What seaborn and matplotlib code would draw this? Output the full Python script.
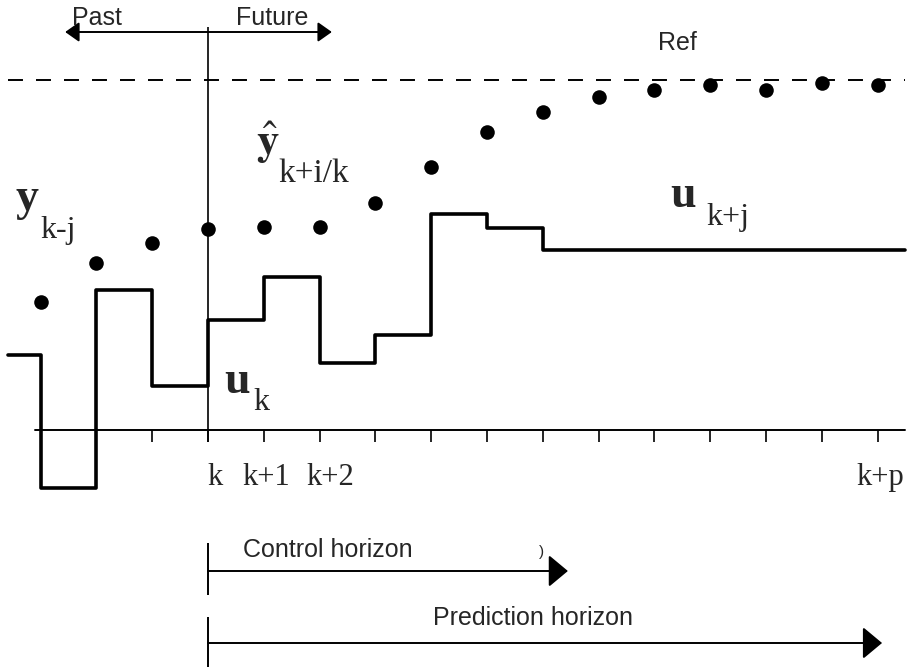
import numpy as np
import matplotlib
matplotlib.use('Agg')
import matplotlib.pyplot as plt
import seaborn as sns

sns.set_style('white')
plt.rcParams['font.family'] = ['Liberation Serif', 'DejaVu Serif']
plt.rcParams['mathtext.fontset'] = 'stix'

# sample index relative to k
steps = np.arange(-3, 13)
# predicted / measured output y
y_out = [12.8, 16.7, 18.7, 20.1, 20.3, 20.3, 22.7, 26.3, 29.8, 31.8,
         33.3, 34.0, 34.5, 34.0, 34.7, 34.5]
ref_level = 35.0

# control signal u, piecewise constant from each edge
u_edges = [-3.58, -3, -2, -1, 0, 1, 2, 3, 4, 5, 6, 12.49]
u_vals = [7.5, -5.8, 14.0, 4.4, 11.0, 15.3, 6.7, 9.5, 21.6, 20.2, 18.0, 18.0]

tick_steps = np.arange(-3, 13)
tick_labels = ['k', 'k+1', 'k+2', 'k+p']
tick_label_x = [0.13, 1.04, 2.19, 12.04]

control_end = 6.45
prediction_end = 12.08

fig = plt.figure(figsize=(9.1, 6.7), dpi=100)
ax = fig.add_axes([0, 0, 1, 1])
ax.set_xlim(-208 / 55.8, 702 / 55.8)
ax.set_ylim(-24, 43)
ax.axis('off')

# reference
ax.plot([-3.58, 12.49], [ref_level, ref_level], color='black', lw=1.4,
        linestyle=(0, (7.7, 6.7)))

# time axis and ticks
ax.plot([-3.1, 12.49], [0, 0], color='black', lw=1.4)
ax.vlines(tick_steps, -1.2, 0, color='black', lw=1.2)
# "now" line
ax.vlines(0, -1.2, 40.3, color='black', lw=1.2)

sns.lineplot(x=u_edges, y=u_vals, drawstyle='steps-post', sort=False,
             estimator=None, color='black', lw=2.6, ax=ax)
sns.scatterplot(x=steps, y=y_out, s=110, color='black', linewidth=0, ax=ax,
                zorder=5)

arrow_small = dict(arrowstyle='<|-|>,head_length=0.85,head_width=0.6',
                   color='black', lw=1.4, shrinkA=0, shrinkB=0, mutation_scale=10)
ax.annotate('', xy=(2.22, 39.8), xytext=(-2.56, 39.8), arrowprops=arrow_small)

arrow_big = dict(arrowstyle='-|>,head_length=1.2,head_width=1.0',
                 color='black', lw=1.4, shrinkA=0, shrinkB=0, mutation_scale=10)
ax.annotate('', xy=(control_end, -14.1), xytext=(0, -14.1), arrowprops=arrow_big)
ax.annotate('', xy=(prediction_end, -21.3), xytext=(0, -21.3), arrowprops=arrow_big)
ax.vlines(0, -16.5, -11.3, color='black', lw=1.4)
ax.vlines(0, -23.7, -18.7, color='black', lw=1.4)

sans = dict(family='Liberation Sans', fontsize=18, va='baseline', ha='center')
ax.text(-1.99, 40.5, 'Past', **sans)
ax.text(1.15, 40.5, 'Future', **sans)
ax.text(8.42, 38.0, 'Ref', **sans)
ax.text(2.15, -12.7, 'Control horizon', **sans)
ax.text(5.82, -19.5, 'Prediction horizon', **sans)
ax.text(5.97, -12.6, ')', family='Liberation Sans', fontsize=11,
        va='baseline', ha='center')

for x, lab in zip(tick_label_x, tick_labels):
    ax.text(x, -5.5, lab, fontsize=22, ha='center', va='baseline')

big = dict(fontsize=33, fontweight='bold', ha='center', va='baseline')
sub = dict(fontsize=23, ha='left', va='baseline')
ax.text(-3.24, 22.0, 'y', **big)
ax.text(-3.0, 19.2, 'k-j', **sub)
ax.text(1.07, 27.5, r'$\hat{\mathbf{y}}$', fontsize=32, ha='center', va='baseline')
ax.text(1.26, 24.8, 'k+i/k', fontsize=24, ha='left', va='baseline')
ax.text(8.51, 22.3, 'u', **big)
ax.text(8.94, 20.5, 'k+j', **sub)
ax.text(0.52, 3.7, 'u', **big)
ax.text(0.81, 2.0, 'k', **sub)

fig.savefig('out.png', dpi=100)
